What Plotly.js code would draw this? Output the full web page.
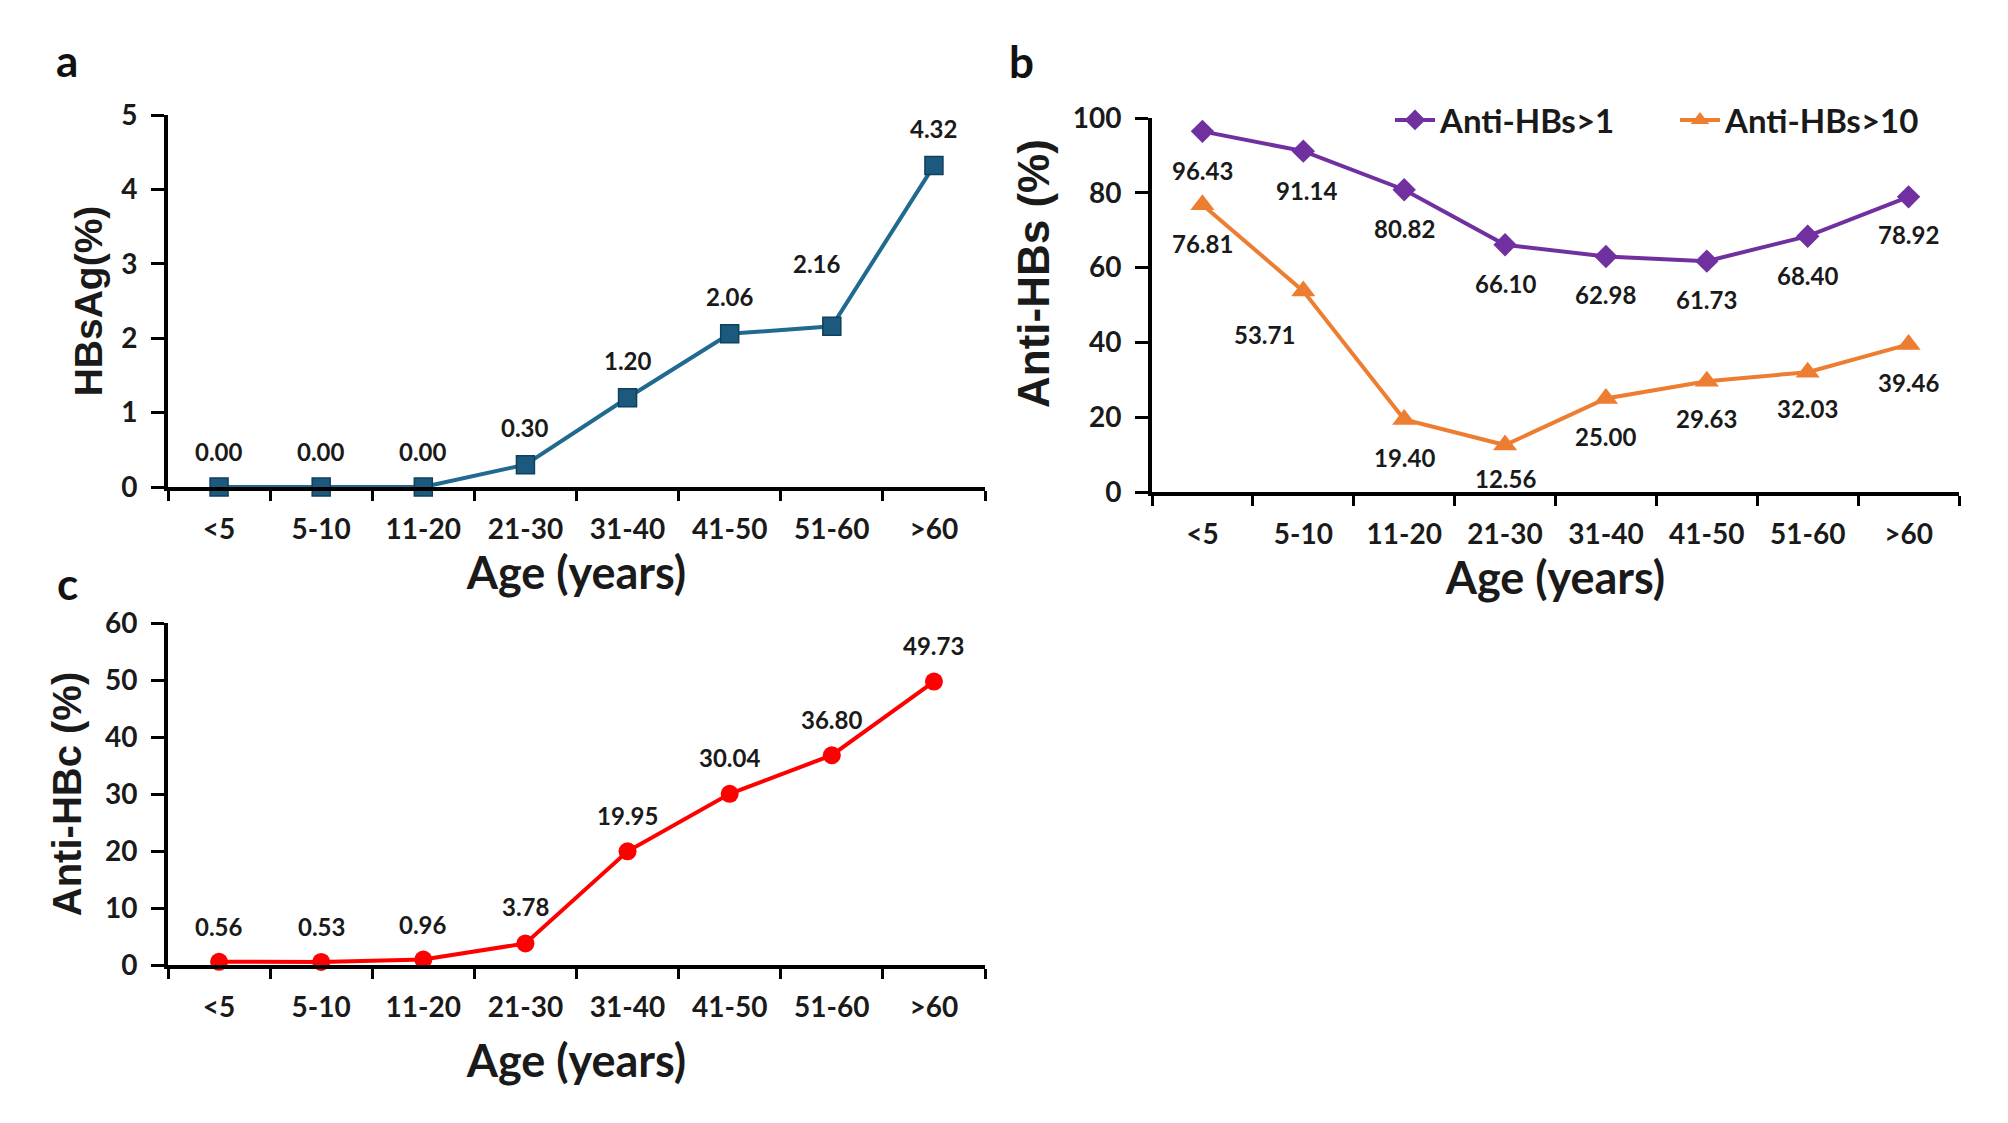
<!DOCTYPE html>
<html>
<head>
<meta charset="utf-8">
<script src="https://cdn.plot.ly/plotly-3.0.1.min.js"></script>
<style>
  html, body { margin: 0; padding: 0; background: #fff; }
  #chart { width: 2008px; height: 1123px; }
</style>
</head>
<body>
<div id="chart"></div>
<script>
// ---- Data ----
const ageGroups = ['<5', '5-10', '11-20', '21-30', '31-40', '41-50', '51-60', '>60'];
const hbsag = [0.00, 0.00, 0.00, 0.30, 1.20, 2.06, 2.16, 4.32];
const antiHBs1 = [96.43, 91.14, 80.82, 66.10, 62.98, 61.73, 68.40, 78.92];
const antiHBs10 = [76.81, 53.71, 19.40, 12.56, 25.00, 29.63, 32.03, 39.46];
const antiHBc = [0.56, 0.53, 0.96, 3.78, 19.95, 30.04, 36.80, 49.73];

// label nudges (px) for data labels: [dx, dy] (dy positive = up)
const nudgeA = [[0,35],[0,35],[0,35],[0,37],[0,37],[0,37],[-15,63],[0,37]];
const nudgeB1 = [[0,-39],[3,-39],[0,-39],[0,-39],[0,-38],[0,-38],[0,-39],[0,-38]];
const nudgeB10 = [[0,-39],[-39,-43],[0,-38],[0,-33],[0,-38],[0,-37],[0,-36],[0,-38]];
const nudgeC = [[0,35],[0,35],[0,35],[0,37],[0,36],[0,36],[0,36],[0,36]];

const FONT = 'Lato, "Open Sans", sans-serif';
const AFONT = '"Liberation Sans", Arial, sans-serif';

function fmt(v) { return v.toFixed(2); }

function labels(vals, nudges, xref, yref) {
  return vals.map((v, i) => ({
    x: ageGroups[i], y: v, xref: xref, yref: yref,
    text: '<b>' + fmt(v) + '</b>', showarrow: false,
    xshift: nudges[i][0], yshift: nudges[i][1],
    font: {family: FONT, size: 24, color: '#1a1a1a'}
  }));
}

const traces = [
  {
    x: ageGroups, y: hbsag, xaxis: 'x', yaxis: 'y', type: 'scatter', mode: 'lines+markers',
    name: 'HBsAg', showlegend: false, cliponaxis: false,
    line: {color: '#1f6a8e', width: 4},
    marker: {symbol: 'square', size: 18, color: '#1b5a7e', line: {color: '#123f5a', width: 1.5}}
  },
  {
    x: ageGroups, y: antiHBs1, xaxis: 'x2', yaxis: 'y2', type: 'scatter', mode: 'lines+markers',
    name: 'Anti-HBs>1', cliponaxis: false,
    line: {color: '#7030a0', width: 4},
    marker: {symbol: 'diamond', size: 18, color: '#7030a0'}
  },
  {
    x: ageGroups, y: antiHBs10, xaxis: 'x2', yaxis: 'y2', type: 'scatter', mode: 'lines+markers',
    name: 'Anti-HBs>10', cliponaxis: false,
    line: {color: '#ed7d31', width: 4},
    marker: {symbol: 'triangle-up', size: 21, color: '#ed7d31'}
  },
  {
    x: ageGroups, y: antiHBc, xaxis: 'x3', yaxis: 'y3', type: 'scatter', mode: 'lines+markers',
    name: 'Anti-HBc', showlegend: false, cliponaxis: false,
    line: {color: '#ff0000', width: 4},
    marker: {symbol: 'circle', size: 18, color: '#ff0000'}
  }
];

function xAxis(domain, anchor, standoff) {
  return {
    domain: domain, anchor: anchor, type: 'category', range: [-0.5, 7.5],
    showline: true, linecolor: '#000', linewidth: 4, mirror: false,
    ticks: 'outside', tickson: 'boundaries', ticklen: 10, tickwidth: 3, tickcolor: '#000',
    ticklabelstandoff: 14,
    tickfont: {family: FONT, size: 28, color: '#1a1a1a', weight: 'bold'},
    showgrid: false, zeroline: false, fixedrange: true,
    title: {text: '<b>Age (years)</b>', standoff: standoff,
            font: {family: FONT, size: 45, color: '#1a1a1a'}}
  };
}
function yAxis(domain, anchor, range, dtick, title, standoff, tsize) {
  return {
    domain: domain, anchor: anchor, range: range, dtick: dtick, tick0: 0,
    showline: true, linecolor: '#000', linewidth: 4,
    ticks: 'outside', ticklen: 13, tickwidth: 3, tickcolor: '#000',
    ticklabelstandoff: 8,
    tickfont: {family: FONT, size: 28, color: '#1a1a1a', weight: 'bold'},
    showgrid: false, zeroline: false, fixedrange: true,
    title: {text: title ? '<b>' + title + '</b>' : '', standoff: standoff,
            font: {family: AFONT, size: tsize || 39, color: '#1a1a1a'}}
  };
}

const annotations = [].concat(
  labels(hbsag, nudgeA, 'x', 'y'),
  labels(antiHBs1, nudgeB1, 'x2', 'y2'),
  labels(antiHBs10, nudgeB10, 'x2', 'y2'),
  labels(antiHBc, nudgeC, 'x3', 'y3'),
  [
    {text: '<b>a</b>', xref: 'paper', yref: 'paper', x: 67/2008, y: 1 - 60/1123, showarrow: false,
     xanchor: 'center', yanchor: 'middle', font: {family: FONT, size: 44, color: '#111'}},
    {text: '<b>b</b>', xref: 'paper', yref: 'paper', x: 1021/2008, y: 1 - 61/1123, showarrow: false,
     xanchor: 'center', yanchor: 'middle', font: {family: FONT, size: 44, color: '#111'}},
    {text: '<b>c</b>', xref: 'paper', yref: 'paper', x: 67/2008, y: 1 - 583/1123, showarrow: false,
     xanchor: 'center', yanchor: 'middle', font: {family: FONT, size: 44, color: '#111'}},
    // y-axis title of panel b (sits slightly above the axis centre in the original)
    {text: '<b>Anti-HBs (%)</b>', xref: 'paper', yref: 'paper', x: 1033/2008, y: 1 - 274/1123,
     showarrow: false, textangle: -90, xanchor: 'center', yanchor: 'middle',
     font: {family: AFONT, size: 44, color: '#1a1a1a'}}
  ]
);

const layout = {
  width: 2008, height: 1123,
  margin: {l: 0, r: 0, t: 0, b: 0},
  paper_bgcolor: '#fff', plot_bgcolor: 'rgba(0,0,0,0)',
  showlegend: true,
  legend: {orientation: 'h', x: 1390/2008, y: 1 - 120/1123, xanchor: 'left', yanchor: 'middle',
           font: {family: FONT, size: 33, color: '#1a1a1a', weight: 'bold'},
           bgcolor: 'rgba(0,0,0,0)', tracegroupgap: 0, itemwidth: 40,
           entrywidth: 230, entrywidthmode: 'pixels'},
  xaxis: xAxis([168/2008, 985/2008], 'y', 4),
  yaxis: yAxis([1 - 487/1123, 1 - 115/1123], 'x', [0, 5], 1, 'HBsAg(%)', 8),
  xaxis2: xAxis([1152/2008, 1959/2008], 'y2', 0),
  yaxis2: yAxis([1 - 492/1123, 1 - 118/1123], 'x2', [0, 100], 20, '', 10),
  xaxis3: xAxis([168/2008, 985/2008], 'y3', 25),
  yaxis3: yAxis([1 - 965/1123, 1 - 623/1123], 'x3', [0, 60], 10, 'Anti-HBc (%)', 12, 40),
  annotations: annotations
};

Plotly.newPlot('chart', traces, layout, {displayModeBar: false, staticPlot: true});
</script>
</body>
</html>
